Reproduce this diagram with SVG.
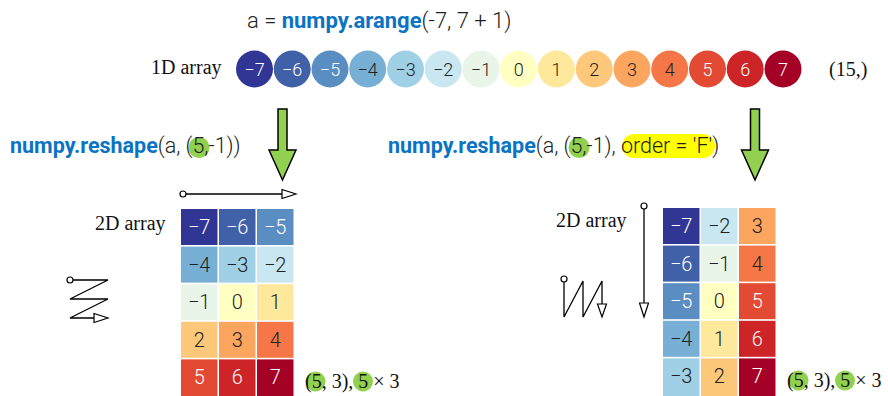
<svg xmlns="http://www.w3.org/2000/svg" width="888" height="396" viewBox="0 0 888 396">
<style>
.rb{font-family:Roboto,"Liberation Sans",sans-serif;}
.code{font-size:21.5px;font-weight:300;fill:#222;}
.ttl{font-size:22px;}
.fn{font-weight:700;fill:#0b73c3;}
.lbl{font-family:"Liberation Serif",serif;font-size:20px;fill:#111;}
.cn{font-family:Roboto,"Liberation Sans",sans-serif;font-size:18px;font-weight:300;text-anchor:middle;}
.gn{font-family:Roboto,"Liberation Sans",sans-serif;font-size:20px;font-weight:300;text-anchor:middle;}
.w{fill:#fff;}
.d{fill:#222;}
.ga{fill:#92d050;stroke:#000;stroke-width:1.5;stroke-linejoin:miter;}
.ln{fill:none;stroke:#000;stroke-width:1.3;}
.hd{fill:#fff;stroke:#000;stroke-width:1.2;}
.dot{fill:#fff;stroke:#000;stroke-width:1.2;}
.hl{fill:#92d050;}
</style>
<rect width="888" height="396" fill="#fff"/>

<g id="title">
<text class="rb code ttl" x="247" y="28">a = <tspan class="fn">numpy.arange</tspan>(-7, 7 + 1)</text>
</g>

<g id="array1d">
<text class="lbl" x="151" y="74">1D array</text>
<circle cx="254.5" cy="69" r="18.5" fill="#313695"/>
<circle cx="292.2" cy="69" r="18.5" fill="#4060a8"/>
<circle cx="330" cy="69" r="18.5" fill="#5a8dc1"/>
<circle cx="367.7" cy="69" r="18.5" fill="#77b0d4"/>
<circle cx="405.5" cy="69" r="18.5" fill="#a0d0e6"/>
<circle cx="443.2" cy="69" r="18.5" fill="#c8e7f1"/>
<circle cx="481" cy="69" r="18.5" fill="#e9f5e9"/>
<circle cx="518.7" cy="69" r="18.5" fill="#ffffc2"/>
<circle cx="556.5" cy="69" r="18.5" fill="#fee89b"/>
<circle cx="594.2" cy="69" r="18.5" fill="#fec87b"/>
<circle cx="632" cy="69" r="18.5" fill="#fca55f"/>
<circle cx="669.7" cy="69" r="18.5" fill="#f57647"/>
<circle cx="707.5" cy="69" r="18.5" fill="#e34a33"/>
<circle cx="745.2" cy="69" r="18.5" fill="#cc2427"/>
<circle cx="783" cy="69" r="18.5" fill="#a50026"/>
<text class="cn w" x="254.5" y="76">−7</text>
<text class="cn w" x="292.2" y="76">−6</text>
<text class="cn w" x="330" y="76">−5</text>
<text class="cn d" x="367.7" y="76">−4</text>
<text class="cn d" x="405.5" y="76">−3</text>
<text class="cn d" x="443.2" y="76">−2</text>
<text class="cn d" x="481" y="76">−1</text>
<text class="cn d" x="518.7" y="76">0</text>
<text class="cn d" x="556.5" y="76">1</text>
<text class="cn d" x="594.2" y="76">2</text>
<text class="cn d" x="632" y="76">3</text>
<text class="cn d" x="669.7" y="76">4</text>
<text class="cn w" x="707.5" y="76">5</text>
<text class="cn w" x="745.2" y="76">6</text>
<text class="cn w" x="783" y="76">7</text>
<text class="lbl" x="829" y="76">(15,)</text>
</g>

<g id="formula-c">
<circle class="hl" cx="199" cy="147.5" r="10.5"/>
<text class="rb code" x="10" y="153"><tspan class="fn">numpy.reshape</tspan>(a, (5,-1))</text>
</g>

<g id="formula-f">
<rect x="622" y="134" width="93" height="24" rx="12" fill="#ffff00"/>
<circle class="hl" cx="579" cy="147.5" r="10.5"/>
<text class="rb code" x="388" y="153"><tspan class="fn">numpy.reshape</tspan>(a, (5,-1), order = 'F')</text>
</g>

<g id="grid-c">
<text class="lbl" x="95" y="230">2D array</text>
<rect x="181" y="209" width="36.5" height="36" fill="#313695"/>
<rect x="219" y="209" width="36.5" height="36" fill="#4060a8"/>
<rect x="257" y="209" width="36.5" height="36" fill="#5a8dc1"/>
<rect x="181" y="246.6" width="36.5" height="36" fill="#77b0d4"/>
<rect x="219" y="246.6" width="36.5" height="36" fill="#a0d0e6"/>
<rect x="257" y="246.6" width="36.5" height="36" fill="#c8e7f1"/>
<rect x="181" y="284.2" width="36.5" height="36" fill="#e9f5e9"/>
<rect x="219" y="284.2" width="36.5" height="36" fill="#ffffc2"/>
<rect x="257" y="284.2" width="36.5" height="36" fill="#fee89b"/>
<rect x="181" y="321.8" width="36.5" height="36" fill="#fec87b"/>
<rect x="219" y="321.8" width="36.5" height="36" fill="#fca55f"/>
<rect x="257" y="321.8" width="36.5" height="36" fill="#f57647"/>
<rect x="181" y="359.4" width="36.5" height="36.6" fill="#e34a33"/>
<rect x="219" y="359.4" width="36.5" height="36.6" fill="#cc2427"/>
<rect x="257" y="359.4" width="36.5" height="36.6" fill="#a50026"/>
<text class="gn w" x="199.2" y="234">−7</text>
<text class="gn w" x="237.2" y="234">−6</text>
<text class="gn w" x="275.2" y="234">−5</text>
<text class="gn d" x="199.2" y="271.6">−4</text>
<text class="gn d" x="237.2" y="271.6">−3</text>
<text class="gn d" x="275.2" y="271.6">−2</text>
<text class="gn d" x="199.2" y="309.2">−1</text>
<text class="gn d" x="237.2" y="309.2">0</text>
<text class="gn d" x="275.2" y="309.2">1</text>
<text class="gn d" x="199.2" y="346.8">2</text>
<text class="gn d" x="237.2" y="346.8">3</text>
<text class="gn d" x="275.2" y="346.8">4</text>
<text class="gn w" x="199.2" y="384.4">5</text>
<text class="gn w" x="237.2" y="384.4">6</text>
<text class="gn w" x="275.2" y="384.4">7</text>
<circle class="hl" cx="315.5" cy="381.5" r="10"/>
<circle class="hl" cx="363" cy="381.5" r="10"/>
<text class="lbl" x="305" y="388">(5, 3), 5 × 3</text>
</g>

<g id="grid-f">
<text class="lbl" x="556" y="227">2D array</text>
<rect x="663" y="208" width="36.5" height="36" fill="#313695"/>
<rect x="663" y="245.6" width="36.5" height="36" fill="#4060a8"/>
<rect x="663" y="283.2" width="36.5" height="36" fill="#5a8dc1"/>
<rect x="663" y="320.8" width="36.5" height="36" fill="#77b0d4"/>
<rect x="663" y="358.4" width="36.5" height="37.6" fill="#a0d0e6"/>
<rect x="701" y="208" width="36.5" height="36" fill="#c8e7f1"/>
<rect x="701" y="245.6" width="36.5" height="36" fill="#e9f5e9"/>
<rect x="701" y="283.2" width="36.5" height="36" fill="#ffffc2"/>
<rect x="701" y="320.8" width="36.5" height="36" fill="#fee89b"/>
<rect x="701" y="358.4" width="36.5" height="37.6" fill="#fec87b"/>
<rect x="739" y="208" width="36.5" height="36" fill="#fca55f"/>
<rect x="739" y="245.6" width="36.5" height="36" fill="#f57647"/>
<rect x="739" y="283.2" width="36.5" height="36" fill="#e34a33"/>
<rect x="739" y="320.8" width="36.5" height="36" fill="#cc2427"/>
<rect x="739" y="358.4" width="36.5" height="37.6" fill="#a50026"/>
<text class="gn w" x="681.2" y="233">−7</text>
<text class="gn w" x="681.2" y="270.6">−6</text>
<text class="gn w" x="681.2" y="308.2">−5</text>
<text class="gn d" x="681.2" y="345.8">−4</text>
<text class="gn d" x="681.2" y="383.4">−3</text>
<text class="gn d" x="719.2" y="233">−2</text>
<text class="gn d" x="719.2" y="270.6">−1</text>
<text class="gn d" x="719.2" y="308.2">0</text>
<text class="gn d" x="719.2" y="345.8">1</text>
<text class="gn d" x="719.2" y="383.4">2</text>
<text class="gn d" x="757.2" y="233">3</text>
<text class="gn d" x="757.2" y="270.6">4</text>
<text class="gn w" x="757.2" y="308.2">5</text>
<text class="gn w" x="757.2" y="345.8">6</text>
<text class="gn w" x="757.2" y="383.4">7</text>
<circle class="hl" cx="798.5" cy="380.5" r="10"/>
<circle class="hl" cx="845" cy="380.5" r="10"/>
<text class="lbl" x="787" y="387">(5, 3), 5 × 3</text>
</g>

<g id="connectors">
<path class="ga" d="M278,109 H287 V150 H296 L282.5,180 L269,150 H278 Z"/>
<path class="ga" d="M750.5,109 H759.5 V150 H768.5 L755,180 L741.5,150 H750.5 Z"/>
<path class="ln" d="M186,194 H282"/>
<circle class="dot" cx="183" cy="194" r="3"/>
<path class="hd" d="M282,189.5 L296,194 L282,198.5 Z"/>
<path class="ln" d="M73,280 H108 L70,299 H108 L70,318 H94"/>
<circle class="dot" cx="70" cy="280" r="3"/>
<path class="hd" d="M94,313.5 L108,318 L94,322.5 Z"/>
<path class="ln" d="M644,209 V303"/>
<circle class="dot" cx="644" cy="206" r="3"/>
<path class="hd" d="M639.5,303 L644,317 L648.5,303 Z"/>
<path class="ln" d="M564,282 V317 L583,281 V317 L602,281 V304"/>
<circle class="dot" cx="564" cy="279" r="3"/>
<path class="hd" d="M597.5,304 L602,317 L606.5,304 Z"/>
</g>
</svg>
